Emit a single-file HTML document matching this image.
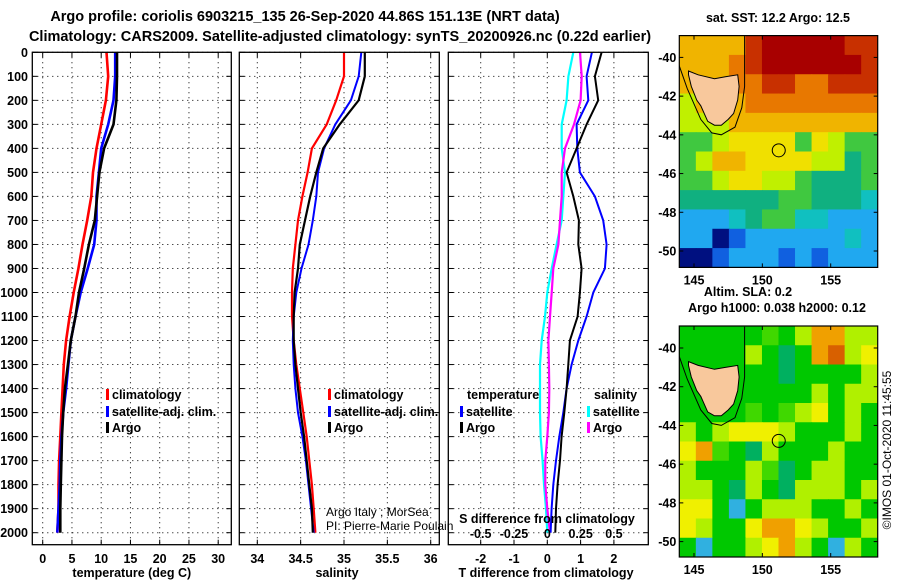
<!DOCTYPE html>
<html><head><meta charset="utf-8"><style>
html,body{margin:0;padding:0;background:#fff;}
svg{display:block;font-family:"Liberation Sans",sans-serif;}
.b{font-weight:bold;font-size:12.5px;}
.n{font-weight:normal;font-size:12px;}
.t{font-weight:bold;font-size:14.5px;}
</style></head><body>
<svg id="s" width="900" height="580" viewBox="0 0 900 580" xmlns="http://www.w3.org/2000/svg">
<text class="t" x="305" y="21" text-anchor="middle">Argo profile: coriolis 6903215_135 26-Sep-2020 44.86S 151.13E (NRT data)</text>
<text class="t" x="340" y="41" text-anchor="middle">Climatology: CARS2009. Satellite-adjusted climatology: synTS_20200926.nc (0.22d earlier)</text>
<g id="g"></g>
</svg>
<script>
// ---- data ----
const depths = [0,100,200,300,400,500,600,700,800,900,1000,1100,1200,1300,1400,1500,1600,1700,1800,1900,2000];
const tempClim = [10.9,11.2,10.8,10.0,9.2,8.6,8.3,7.6,6.8,6.1,5.3,4.6,4.0,3.6,3.4,3.2,3.0,2.8,2.7,2.7,2.5];
const tempSat  = [12.4,12.4,12.1,11.2,10.0,9.6,9.2,9.2,8.8,7.7,6.5,5.6,4.8,4.4,4.0,3.5,3.2,3.0,2.9,2.7,2.5];
const tempArgo = [12.7,12.7,12.6,12.1,10.5,9.7,9.3,8.9,7.9,7.1,6.2,5.6,4.8,4.3,3.8,3.5,3.3,3.2,3.1,3.0,3.0];
const salClim = [35.0,35.0,34.91,34.80,34.63,34.58,34.52,34.47,34.44,34.41,34.40,34.40,34.42,34.45,34.49,34.53,34.57,34.60,34.63,34.65,34.67];
const salSat  = [35.20,35.17,35.08,34.90,34.77,34.70,34.68,34.64,34.59,34.51,34.45,34.42,34.41,34.42,34.44,34.47,34.52,34.56,34.59,34.62,34.65];
const salArgo = [35.24,35.24,35.17,34.95,34.76,34.68,34.61,34.55,34.49,34.47,34.43,34.42,34.42,34.44,34.47,34.50,34.54,34.57,34.60,34.63,34.64];
const dTSat  = [1.34,1.18,1.23,0.88,0.90,0.98,1.43,1.68,1.78,1.73,1.38,1.18,0.93,0.73,0.58,0.48,0.36,0.26,0.18,0.13,0.10];
const dTArgo = [1.63,1.43,1.53,1.18,0.88,0.58,0.78,0.95,0.93,1.03,0.98,0.91,0.68,0.63,0.58,0.51,0.43,0.38,0.31,0.26,0.24];
const dSSat  = [0.195,0.158,0.145,0.108,0.108,0.133,0.12,0.108,0.07,0.033,0.0,-0.017,-0.042,-0.055,-0.055,-0.055,-0.05,-0.035,-0.025,-0.01,0.0];
const dSArgo = [0.245,0.258,0.25,0.2,0.133,0.108,0.108,0.095,0.083,0.045,0.033,0.02,0.008,0.012,0.015,0.012,0.0,-0.015,-0.015,0.0,0.02];
const depthTicks = [0,100,200,300,400,500,600,700,800,900,1000,1100,1200,1300,1400,1500,1600,1700,1800,1900,2000];
const tTicks = [0,5,10,15,20,25,30];
const sTicks = [34,34.5,35,35.5,36];
const sTickLabels = ["34","34.5","35","35.5","36"];
const dtTicks = [-2,-1,0,1,2];
const dsTicks = [-0.5,-0.25,0,0.25,0.5];
const dsTickLabels = ["-0.5","-0.25","0","0.25","0.5"];
const latTicks = [-40,-42,-44,-46,-48,-50];
const lonTicks = [145,150,155];
const sstGrid = ["QQQQRAAAAARR","QQQORAAAAAAR","QQQOORROORRR","LQQQOOOOOOOO","LLLQQQQQQQQQ","GGLYYYYGYLGG","GLQQYYYYLLTG","GGLYYLLGTTTG","TTTTTTGGTTTC","BBBCTGGCCBBB","BBNDBBBBBBCB","NNDBBBDBDBBB"];
const slaGrid = ["GGGGGHGLOOLL","GGGGLGTGORLY","GGGGGGTGGGGL","GGGGGGGGLGLL","GGGGHGHLYGLG","LGLYYYLGGGLG","YOHGTLGGGLGG","LGGGLHTGLLGG","LLGTLGTLLLGL","YYGBGLLLGGLG","YLGGYOOYLGGL","GBGGLYOLGBLG"];
const tasmania = [[144.6,-40.7],[145.3,-40.9],[146.5,-41.1],[147.3,-41.0],[148.2,-40.9],[148.3,-41.5],[148.2,-42.2],[147.9,-42.9],[147.5,-43.2],[147.0,-43.5],[146.5,-43.5],[146.0,-43.3],[145.5,-42.5],[145.2,-42.2],[144.8,-41.5],[144.6,-40.9]];
const shelf = [[148.7,-38.9],[148.7,-41.5],[148.5,-42.6],[148.0,-43.6],[147.0,-44.0],[146.3,-43.9],[145.5,-43.2],[144.5,-41.6],[143.9,-40.4]];
const floatPos = [151.2,-44.8];

// ---- scales ----
const Y0=52.3, Y1=544.7;
const yD = d => 52.3 + d*0.2402;
const xT = t => 42.7 + t*5.85;
const xS = s => 257.3 + (s-34)*86.7;
const xDT = t => 547.3 + t*33.3;
const xDS = s => 547.3 + s*133.3;
const NS="http://www.w3.org/2000/svg";
const G=document.getElementById('g');
function mk(tag,attrs,parent){const e=document.createElementNS(NS,tag);for(const k in attrs)e.setAttribute(k,attrs[k]);(parent||G).appendChild(e);return e;}
function txt(x,y,s,cls,anchor,parent){const e=mk('text',{x:x,y:y,'class':cls||'b','text-anchor':anchor||'middle'},parent);e.textContent=s;return e;}

function panel(name,x0,x1,xticks,xfun,labels,showDepth){
  const g=mk('g',{});
  
  
  mk('rect',{x:x0,y:Y0,width:x1-x0,height:Y1-Y0,fill:'#fff'},g);
  depthTicks.forEach(d=>{const y=yD(d);
    mk('line',{x1:x0,x2:x1,y1:y,y2:y,stroke:'#000','stroke-width':1,'stroke-dasharray':'1,4'},g);
    mk('line',{x1:x0,x2:x0+5,y1:y,y2:y,stroke:'#000'},g);
    mk('line',{x1:x1-5,x2:x1,y1:y,y2:y,stroke:'#000'},g);
    if(showDepth){const t=txt(28,y+4.5,String(d),'b','end',g);
      
      }
  });
  xticks.forEach((v,i)=>{const x=xfun(v);
    mk('line',{x1:x,x2:x,y1:Y0,y2:Y1,stroke:'#000','stroke-dasharray':'1,4'},g);
    mk('line',{x1:x,x2:x,y1:Y1-5,y2:Y1,stroke:'#000'},g);
    mk('line',{x1:x,x2:x,y1:Y0,y2:Y0+5,stroke:'#000'},g);
    if(labels){const t=txt(x,563,labels[i],'b','middle',g);
      
      }
  });
  return g;
}
function series(name,vals,xf,color,w,parent){
  const pts=vals.map((v,i)=>xf(v).toFixed(1)+','+yD(depths[i]).toFixed(1)).join(' ');
  const p=mk('polyline',{points:pts,fill:'none',stroke:color,'stroke-width':w,'stroke-linejoin':'miter'},parent);
  
  
}
function frame(x0,x1,parent){mk('rect',{x:x0,y:Y0,width:x1-x0,height:Y1-Y0,fill:'none',stroke:'#000','stroke-width':1.3},parent);}
function legend(x,y,color,label,parent){
  mk('rect',{x:x,y:y-10,width:3,height:11,fill:color},parent);
  const t=txt(x+6,y,label,'b','start',parent);
  
  
}

// panel 1
const p1=panel('temperature-panel',32.3,231.3,tTicks,xT,tTicks.map(String),true);
series('temp-climatology-line',tempClim,xT,'#ff0000',2.6,p1);
series('temp-satellite-line',tempSat,xT,'#0000ff',2.6,p1);
series('temp-argo-line',tempArgo,xT,'#000000',2.6,p1);
frame(32.3,231.3,p1);
legend(106,399,'#ff0000','climatology',p1);
legend(106,416,'#0000ff','satellite-adj. clim.',p1);
legend(106,432,'#000000','Argo',p1);
let at=txt(131.8,577,'temperature (deg C)','b','middle');



// panel 2
const p2=panel('salinity-panel',239.3,439.3,sTicks,xS,sTickLabels,false);
series('sal-climatology-line',salClim,xS,'#ff0000',2.2,p2);
series('sal-satellite-line',salSat,xS,'#0000ff',2,p2);
series('sal-argo-line',salArgo,xS,'#000000',2.2,p2);
frame(239.3,439.3,p2);
legend(328,399,'#ff0000','climatology',p2);
legend(328,416,'#0000ff','satellite-adj. clim.',p2);
legend(328,432,'#000000','Argo',p2);
at=txt(337,577,'salinity','b','middle');



// panel 3
const p3=panel('difference-panel',448.3,648.3,dtTicks,xDT,dtTicks.map(String),false);
series('sdiff-satellite-line',dSSat,xDS,'#00ffff',2.2,p3);
series('sdiff-argo-line',dSArgo,xDS,'#ff00ff',2.2,p3);
series('tdiff-satellite-line',dTSat,xDT,'#0000ff',2,p3);
series('tdiff-argo-line',dTArgo,xDT,'#000000',2,p3);
dsTicks.forEach((v,i)=>{const t=txt(xDS(v),538,dsTickLabels[i],'b','middle',p3);
  
  });
at=txt(547,523,'S difference from climatology','b','middle',p3);


frame(448.3,648.3,p3);
txt(467,399,'temperature','b','start',p3);
legend(460,416,'#0000ff','satellite',p3);
legend(460,432,'#000000','Argo',p3);
txt(594,399,'salinity','b','start',p3);
legend(587,416,'#00ffff','satellite',p3);
legend(587,432,'#ff00ff','Argo',p3);
at=txt(546,577,'T difference from climatology','b','middle');



let cr=txt(326,516,'Argo Italy ; MorSea','n','start');


cr=txt(326,530,'PI: Pierre-Marie Poulain','n','start');



// ---- maps ----
const pal1={A:'#a80000',R:'#c83000',O:'#e87800',Q:'#f0b400',Y:'#f0e000',L:'#c0f000',G:'#40c840',T:'#10b080',C:'#10c0c0',B:'#20a8f0',D:'#1060e0',N:'#001080'};
const pal2={G:'#00c800',H:'#40d800',L:'#b0f000',Y:'#f0f000',O:'#f0a000',R:'#d86000',T:'#00b060',B:'#30b0e0'};
const MX0=679.3, MX1=877.7;
const lonX = lon => 694 + (lon-145)*13.67;
function drawMap(name,top,bot,yNeg40,grid,pal){
  const latY = lat => yNeg40 + (-40-lat)*19.36;
  const g=mk('g',{});
  
  
  const cid='clip'+name;
  const cp=mk('clipPath',{id:cid},g); mk('rect',{x:MX0,y:top,width:MX1-MX0,height:bot-top},cp);
  const inner=mk('g',{'clip-path':'url(#'+cid+')'},g);
  const rows=grid.length, cols=grid[0].length, cw=(MX1-MX0)/cols, ch=(bot-top)/rows;
  for(let r=0;r<rows;r++)for(let c=0;c<cols;c++)
    mk('rect',{x:MX0+c*cw,y:top+r*ch,width:cw+0.6,height:ch+0.6,fill:pal[grid[r][c]]},inner);
  const tas=mk('polygon',{points:tasmania.map(p=>lonX(p[0]).toFixed(1)+','+latY(p[1]).toFixed(1)).join(' '),fill:'#f8c89c',stroke:'#000','stroke-width':1},inner);
  
  
  mk('polyline',{points:shelf.map(p=>lonX(p[0]).toFixed(1)+','+latY(p[1]).toFixed(1)).join(' '),fill:'none',stroke:'#000','stroke-width':1},inner);
  const fc=mk('circle',{cx:lonX(floatPos[0]),cy:latY(floatPos[1]),r:6.5,fill:'none',stroke:'#000','stroke-width':1},inner);
  
  
  mk('rect',{x:MX0,y:top,width:MX1-MX0,height:bot-top,fill:'none',stroke:'#000','stroke-width':1.2},g);
  latTicks.forEach(l=>{const y=latY(l);
    mk('line',{x1:MX0,x2:MX0+4,y1:y,y2:y,stroke:'#000'},g);
    mk('line',{x1:MX1-4,x2:MX1,y1:y,y2:y,stroke:'#000'},g);
    const t=txt(MX0-3,y+4.5,String(l),'b','end',g);
    
    });
  lonTicks.forEach(l=>{const x=lonX(l);
    mk('line',{x1:x,x2:x,y1:bot-4,y2:bot,stroke:'#000'},g);
    mk('line',{x1:x,x2:x,y1:top,y2:top+4,stroke:'#000'},g);
    const t=txt(x,bot+17,String(l),'b','middle',g);
    
    });
}
drawMap('sst-map',35.6,267.4,57.4,sstGrid,pal1);
drawMap('sla-map',326,557,348,slaGrid,pal2);
let mt=txt(778,22,'sat. SST: 12.2 Argo: 12.5','b','middle');


mt=txt(748,296,'Altim. SLA: 0.2','b','middle');


mt=txt(777,312,'Argo h1000: 0.038 h2000: 0.12','b','middle');


const cp2=txt(0,0,'©IMOS 01-Oct-2020 11:45:55','n','middle');
cp2.setAttribute('transform','translate(891,450) rotate(-90)');


</script>
</body></html>
